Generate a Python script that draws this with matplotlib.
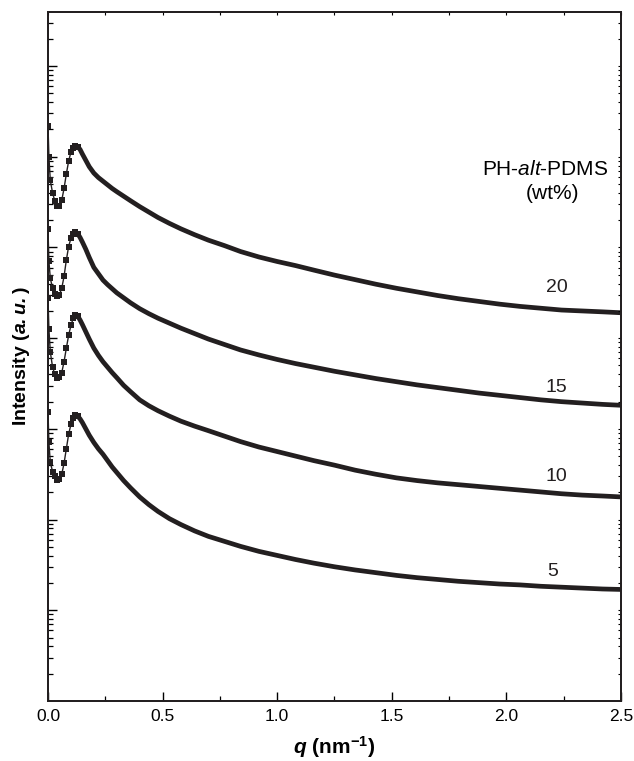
import numpy as np
import matplotlib
matplotlib.use('Agg')
import matplotlib.pyplot as plt

plt.rcParams['font.family'] = ['Liberation Sans', 'DejaVu Sans']
plt.rcParams['mathtext.fontset'] = 'custom'
plt.rcParams['mathtext.rm'] = 'Liberation Sans'
plt.rcParams['mathtext.it'] = 'Liberation Sans:italic'
plt.rcParams['mathtext.bf'] = 'Liberation Sans:bold'
plt.rcParams['mathtext.bfit'] = 'Liberation Sans:bold:italic'

# scattering vector q (nm^-1)
q = [0, 0.004, 0.010, 0.020, 0.030, 0.040, 0.050, 0.060, 0.070, 0.080,
     0.090, 0.100, 0.110, 0.120, 0.130, 0.140, 0.150, 0.165, 0.180, 0.200,
     0.220, 0.240, 0.260, 0.280, 0.300, 0.330, 0.360, 0.400, 0.440, 0.480,
     0.530, 0.580, 0.640, 0.700, 0.770, 0.840, 0.920, 1.000, 1.080, 1.160,
     1.250, 1.340, 1.430, 1.520, 1.610, 1.700, 1.790, 1.880, 1.970, 2.060,
     2.150, 2.240, 2.330, 2.420, 2.500]

# log10 intensity (a.u.), curves shifted vertically
log_i_20 = [6.34, 6.00, 5.74, 5.60, 5.51, 5.46, 5.46, 5.52, 5.65, 5.81,
            5.95, 6.05, 6.10, 6.12, 6.11, 6.08, 6.03, 5.96, 5.89, 5.82,
            5.77, 5.73, 5.69, 5.65, 5.615, 5.565, 5.515, 5.45, 5.39, 5.33,
            5.265, 5.205, 5.14, 5.08, 5.02, 4.955, 4.895, 4.845, 4.80, 4.75,
            4.695, 4.645, 4.595, 4.55, 4.51, 4.47, 4.435, 4.405, 4.375, 4.35,
            4.33, 4.31, 4.30, 4.29, 4.28]
log_i_15 = [5.20, 4.85, 4.66, 4.55, 4.49, 4.47, 4.48, 4.55, 4.68, 4.86,
            5.01, 5.10, 5.15, 5.17, 5.15, 5.11, 5.06, 4.98, 4.89, 4.78,
            4.71, 4.64, 4.59, 4.545, 4.50, 4.445, 4.39, 4.325, 4.27, 4.22,
            4.165, 4.11, 4.05, 3.99, 3.93, 3.87, 3.815, 3.765, 3.72, 3.68,
            3.635, 3.595, 3.555, 3.52, 3.485, 3.455, 3.425, 3.395, 3.37, 3.345,
            3.32, 3.30, 3.285, 3.27, 3.26]
log_i_10 = [4.44, 4.10, 3.85, 3.68, 3.60, 3.56, 3.57, 3.62, 3.74, 3.89,
            4.03, 4.14, 4.22, 4.26, 4.24, 4.20, 4.15, 4.07, 3.99, 3.89,
            3.81, 3.74, 3.68, 3.62, 3.565, 3.48, 3.41, 3.32, 3.255, 3.20,
            3.14, 3.085, 3.03, 2.98, 2.92, 2.86, 2.80, 2.75, 2.70, 2.65,
            2.60, 2.545, 2.50, 2.46, 2.43, 2.405, 2.385, 2.365, 2.345, 2.325,
            2.305, 2.285, 2.27, 2.26, 2.25]
log_i_5 = [3.19, 2.85, 2.63, 2.53, 2.48, 2.44, 2.45, 2.50, 2.62, 2.78,
           2.94, 3.05, 3.12, 3.15, 3.14, 3.11, 3.07, 3.00, 2.93, 2.85,
           2.78, 2.72, 2.65, 2.58, 2.52, 2.43, 2.35, 2.25, 2.165, 2.09,
           2.01, 1.945, 1.875, 1.815, 1.76, 1.705, 1.65, 1.605, 1.56, 1.52,
           1.48, 1.445, 1.415, 1.385, 1.36, 1.34, 1.32, 1.305, 1.29, 1.28,
           1.265, 1.255, 1.245, 1.235, 1.23]

labels = ['20', '15', '10', '5']
curves = [log_i_20, log_i_15, log_i_10, log_i_5]
# label placement (q, log10 y)
label_q = [2.22, 2.22, 2.22, 2.20]
label_logy = [4.56, 3.46, 2.47, 1.43]

col = '#231f20'
fig = plt.figure(figsize=(6.34, 7.61), dpi=100)
ax = fig.add_axes([0.0757, 0.0788, 0.9038, 0.9054])

q = np.array(q)
head = q <= 0.13
tail = q >= 0.12
for lg in curves:
    I = 10 ** np.array(lg)
    ax.plot(q, I, '-', color=col, lw=1.0)
    ax.plot(q[head], I[head], 's', color=col, ms=4.2, mew=0)
    ax.plot(q[tail], I[tail], '-', color=col, lw=3.4,
            solid_capstyle='butt', solid_joinstyle='round')

for lab, lq, ly in zip(labels, label_q, label_logy):
    ax.text(lq, 10 ** ly, lab, fontsize=14, ha='center', va='center', color=col)

ax.text(2.17, 10 ** 5.86, 'PH-$\\mathit{alt}$-PDMS', fontsize=15, ha='center', va='center')
ax.text(2.2, 10 ** 5.60, '(wt%)', fontsize=15, ha='center', va='center')

ax.set_yscale('log')
ax.set_xlim(0, 2.5)
ax.set_xticks([0.0, 0.5, 1.0, 1.5, 2.0, 2.5])
ax.set_xticks([0.25, 0.75, 1.25, 1.75, 2.25], minor=True)
ax.set_xticklabels(['0.0', '0.5', '1.0', '1.5', '2.0', '2.5'])
ax.set_yticks([10.0 ** k for k in range(1, 8)])
ax.yaxis.set_minor_locator(matplotlib.ticker.LogLocator(base=10, subs=np.arange(2, 10), numticks=20))
ax.yaxis.set_major_formatter(matplotlib.ticker.NullFormatter())
ax.yaxis.set_minor_formatter(matplotlib.ticker.NullFormatter())
ax.set_ylim(1, 10 ** 7.595)

ax.tick_params(axis='both', which='major', direction='in', length=6.5, width=1.0, labelsize=12.5)
ax.tick_params(axis='both', which='minor', direction='in', length=3.5, width=0.9)
ax.tick_params(axis='x', pad=6)

# small ticks on top and right spines
axr = ax.twinx()
axr.set_yscale('log')
axr.set_yticks([10.0 ** k for k in range(1, 8)])
axr.yaxis.set_minor_locator(matplotlib.ticker.LogLocator(base=10, subs=np.arange(2, 10), numticks=20))
axr.yaxis.set_major_formatter(matplotlib.ticker.NullFormatter())
axr.yaxis.set_minor_formatter(matplotlib.ticker.NullFormatter())
axr.set_ylim(ax.get_ylim())
axr.tick_params(which='both', direction='in', length=2.2, width=0.8)
axt = ax.twiny()
axt.set_xlim(ax.get_xlim())
axt.set_xticks([0.0, 0.5, 1.0, 1.5, 2.0, 2.5])
axt.set_xticks([0.25, 0.75, 1.25, 1.75, 2.25], minor=True)
axt.set_xticklabels([])
axt.tick_params(which='both', direction='in', length=2.2, width=0.8)

for a in (ax, axr, axt):
    for s in a.spines.values():
        s.set_linewidth(1.2)
        s.set_color(col)

ax.set_xlabel('$\\mathbfit{q}$ $\\mathbf{(nm^{-1})}$', fontsize=15, labelpad=7)
ax.set_ylabel('Intensity ($\\mathbfit{a.u.}$)', fontsize=14, fontweight='bold', labelpad=8)

fig.savefig('out.png', dpi=100)
